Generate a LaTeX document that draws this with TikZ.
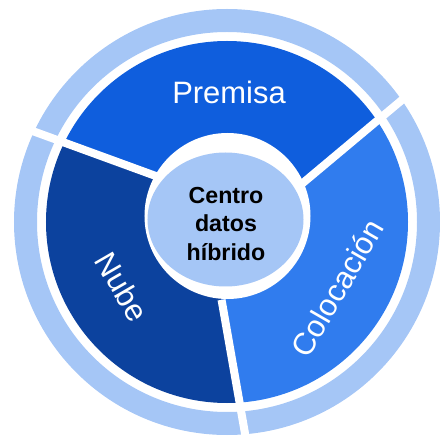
\documentclass[tikz,border=0pt]{standalone}
\usepackage{fontspec}
\setmainfont{Liberation Sans}
\definecolor{ringblue}{RGB}{165,198,246}
\definecolor{premblue}{RGB}{15,94,221}
\definecolor{nubeblue}{RGB}{12,66,158}
\definecolor{coloblue}{RGB}{48,124,238}

\begin{document}
\begin{tikzpicture}[x=0.025cm,y=0.025cm,
  gap/.style={white,line width=5.7pt},
  seglabel/.style={text=white,font=\fontsize{22}{26}\selectfont}]
\useasboundingbox (-227,-218) rectangle (213,222);
% outer ring
\fill[ringblue,even odd rule] (0,0) circle (213) (0,0) circle (190);
% three segments
\begin{scope}
\clip (0,0) circle (181);
\fill[premblue] (0,0) -- (26:84) -- (35:213) -- (90:400) -- (155:213) -- (146:84) -- cycle;
\fill[nubeblue] (0,0) -- (146:84) -- (155:213) -- (210:400) -- (275:213) -- (266:84) -- cycle;
\fill[coloblue] (0,0) -- (266:84) -- (275:213) -- (330:400) -- (35:213) -- (26:84) -- cycle;
\end{scope}
\foreach \a [evaluate=\a as \b using \a+9] in {26,146,266}
  \draw[gap] (\a:78) -- (\b:218);
% centre
\fill[white] (0.5,6) circle (83);
\fill[ringblue] (-1.5,2.5) ellipse [x radius=78, y radius=67];
\node[align=center,font=\bfseries\fontsize{16.5}{20}\selectfont] (centro) at (-1,-2) {Centro\\datos\\híbrido};
\node[seglabel] (premisa) at (2,130) {Premisa};
\node[seglabel,rotate=-60] (nube) at (-105,-65) {Nube};
\node[seglabel,rotate=60] (colocacion) at (110,-66) {Colocación};
\end{tikzpicture}
\end{document}
